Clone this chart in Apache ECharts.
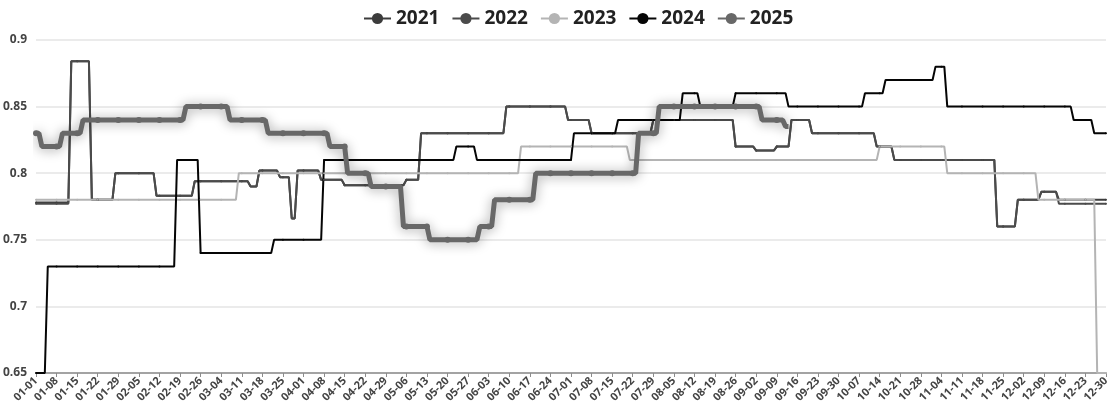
<!DOCTYPE html>
<html><head><meta charset="utf-8">
<script src="https://cdn.jsdelivr.net/npm/echarts@6/dist/echarts.min.js"></script>
<style>html,body{margin:0;padding:0;background:#fff}#c{width:1113px;height:411px}</style>
</head><body><div id="c"></div>
<script>
// Calendar used by the category axis (leap-year calendar, 01-01 .. 12-30)
const monthDays = [31,29,31,30,31,30,31,31,30,31,30,31];
const categories = [];
monthDays.forEach((n, m) => { for (let d = 1; d <= n; d++) categories.push(String(m+1).padStart(2,'0') + '-' + String(d).padStart(2,'0')); });
categories.pop(); // axis ends at 12-30

const seriesNames = ['2021','2022','2023','2024','2025'];
const yTicks = [0.65, 0.7, 0.75, 0.8, 0.85, 0.9];

// Step values: [date from which the value holds, value]
const v2021 = [['01-01',0.778],['01-13',0.884],['01-20',0.78],['01-28',0.80],['02-11',0.783],['02-24',0.794],['03-14',0.79],['03-17',0.802],['03-24',0.797],['03-28',0.766],['03-30',0.802],['04-07',0.795],['04-15',0.791],['05-06',0.795],['05-11',0.83],['06-09',0.85],['06-30',0.84],['07-08',0.83],['07-29',0.84],['08-26',0.82],['09-02',0.817],['09-09',0.82],['09-14',0.84],['09-21',0.83],['10-13',0.82],['10-19',0.81],['11-23',0.76],['11-30',0.78],['12-08',0.786],['12-14',0.78]];
const v2022 = [['01-01',0.777],['01-13',0.884],['01-20',0.78],['01-28',0.80],['02-11',0.783],['02-24',0.794],['03-14',0.79],['03-17',0.802],['03-24',0.797],['03-28',0.766],['03-30',0.802],['04-07',0.795],['04-15',0.791],['05-06',0.795],['05-11',0.83],['06-09',0.85],['06-30',0.84],['07-08',0.83],['07-29',0.84],['08-26',0.82],['09-02',0.817],['09-09',0.82],['09-14',0.84],['09-21',0.83],['10-13',0.82],['10-19',0.81],['11-23',0.76],['11-30',0.78],['12-08',0.786],['12-14',0.777]];
const v2023 = [['01-01',0.78],['03-10',0.80],['06-14',0.82],['07-21',0.81],['10-14',0.82],['11-06',0.80],['12-07',0.78],['12-27',0.65]];
const v2024 = [['01-01',0.65],['01-05',0.73],['02-18',0.81],['02-26',0.74],['03-22',0.75],['04-08',0.81],['05-23',0.82],['05-30',0.81],['07-02',0.83],['07-17',0.84],['08-08',0.86],['08-14',0.85],['08-26',0.86],['09-13',0.85],['10-09',0.86],['10-16',0.87],['11-02',0.88],['11-06',0.85],['12-19',0.84],['12-26',0.83]];
const v2025 = [['01-01',0.83],['01-03',0.82],['01-10',0.83],['01-17',0.84],['02-21',0.85],['03-07',0.84],['03-20',0.83],['04-10',0.82],['04-16',0.80],['04-24',0.79],['05-05',0.76],['05-14',0.75],['05-31',0.76],['06-05',0.78],['06-19',0.80],['07-24',0.83],['07-31',0.85],['09-04',0.84],['09-12',0.835],['09-14',null]];

function daily(steps) {
  const out = []; let k = 0; let cur = null;
  for (const c of categories) {
    while (k < steps.length && steps[k][0] <= c) { cur = steps[k][1]; k++; }
    out.push(cur);
  }
  return out;
}

const colors = ['#3c3c3c','#4b4b4b','#b4b4b4','#050505','#686868'];
const raw = [v2021, v2022, v2023, v2024, v2025];

const series = raw.map((steps, i) => {
  const thick = i === 4;
  return {
    name: seriesNames[i],
    type: 'line',
    data: daily(steps),
    symbol: 'circle',
    symbolSize: thick ? 6 : 2,
    color: colors[i],
    lineStyle: thick
      ? { width: 5, color: colors[i], shadowColor: 'rgba(0,0,0,0.4)', shadowBlur: 12, shadowOffsetY: 1 }
      : { width: 2, color: colors[i] },
    itemStyle: { color: colors[i] },
    emphasis: { disabled: true },
    z: thick ? 5 : 2
  };
});

const chart = echarts.init(document.getElementById('c'), null, { renderer: 'canvas' });
chart.setOption({
  animation: false,
  backgroundColor: '#fff',
  textStyle: { fontFamily: 'Open Sans' },
  legend: {
    data: seriesNames,
    left: 358, top: 4,
    itemWidth: 27, itemHeight: 14, itemGap: 12,
    textStyle: { fontSize: 19, fontWeight: 'bold', color: '#222', fontFamily: 'Open Sans' }
  },
  grid: { left: 36, right: 7, top: 40, bottom: 38, containLabel: false },
  xAxis: {
    type: 'category',
    data: categories,
    boundaryGap: false,
    axisLine: { lineStyle: { color: '#8c8c8c', width: 1.5 } },
    axisTick: { show: true, interval: 6, length: 4, lineStyle: { color: '#8c8c8c' } },
    axisLabel: { interval: 6, rotate: 45, fontSize: 11, fontWeight: 'bold', color: '#444', margin: 6, fontFamily: 'Open Sans' },
    splitLine: { show: false }
  },
  yAxis: {
    type: 'value',
    min: yTicks[0], max: yTicks[yTicks.length-1], interval: 0.05,
    axisLine: { show: false },
    axisTick: { show: false },
    axisLabel: { fontSize: 12, fontWeight: 'bold', color: '#444', margin: 9, fontFamily: 'Open Sans',
      formatter: v => String(Math.round(v*100)/100) },
    splitLine: { lineStyle: { color: '#e4e4e4', width: 1.5 } }
  },
  series: series
});
</script></body></html>
